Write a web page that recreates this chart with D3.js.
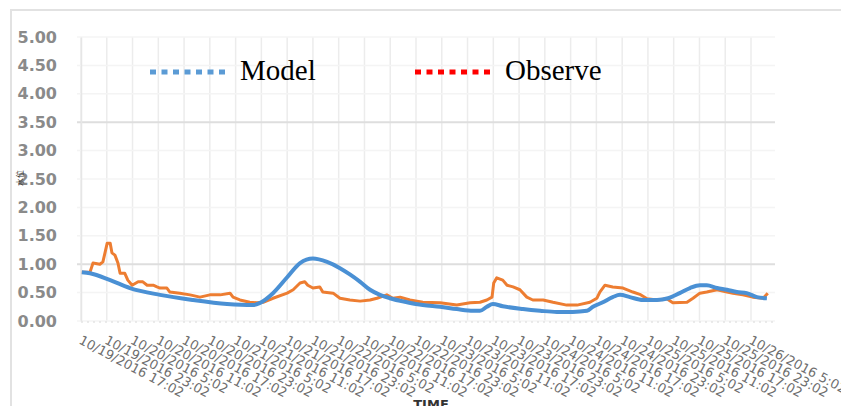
<!DOCTYPE html>
<html lang="en">
<head>
    <meta charset="UTF-8">
    <title>Model vs Observe</title>
    <script src="https://d3js.org/d3.v7.min.js"></script>
    <style>
        body { margin: 0; background: #fff; }
        .ylab { font-family: "DejaVu Sans", sans-serif; font-size: 16px; font-weight: bold; fill: #8a8a8a; }
        .xlab { font-family: "DejaVu Sans", sans-serif; font-size: 13px; fill: #6e6e6e; }
        .legend { font-family: "Liberation Serif", serif; font-size: 29px; fill: #000; }
    </style>
</head>
<body>
<script>
    const width  = 841;
    const height = 406;

    // x tick labels, one every 6 hours from 10/19/2016 17:02
    const tickLabels = [
        "10/19/2016 17:02", "10/19/2016 23:02",
        "10/20/2016 5:02", "10/20/2016 11:02", "10/20/2016 17:02", "10/20/2016 23:02",
        "10/21/2016 5:02", "10/21/2016 11:02", "10/21/2016 17:02", "10/21/2016 23:02",
        "10/22/2016 5:02", "10/22/2016 11:02", "10/22/2016 17:02", "10/22/2016 23:02",
        "10/23/2016 5:02", "10/23/2016 11:02", "10/23/2016 17:02", "10/23/2016 23:02",
        "10/24/2016 5:02", "10/24/2016 11:02", "10/24/2016 17:02", "10/24/2016 23:02",
        "10/25/2016 5:02", "10/25/2016 11:02", "10/25/2016 17:02", "10/25/2016 23:02",
        "10/26/2016 5:02"
    ];
    const yTicks = [0, 0.5, 1, 1.5, 2, 2.5, 3, 3.5, 4, 4.5, 5];

    // hours after 10/19/2016 17:02
    const modelHours = [0.2, 2.1, 6.8, 11.4, 18.4, 26.1, 34.0, 40.0, 41.7, 44.7, 48.0, 51.0, 54.0, 57.3,
        60.3, 62.6, 65.0, 67.3, 69.6, 71.9, 75.9, 79.6, 83.6, 87.5, 91.3, 92.9, 94.5, 95.9, 98.2,
        102.9, 106.9, 110.8, 114.5, 117.8, 119.2, 121.5, 123.8, 125.5, 127.8, 130.8, 134.1, 136.7,
        139.4, 141.8, 144.1, 145.7, 148.1, 150.4, 152.7, 155.0, 157.4, 159.7];
    const modelValues = [0.86, 0.84, 0.72, 0.58, 0.46, 0.37, 0.30, 0.28, 0.32, 0.49, 0.77, 1.02, 1.10, 1.04,
        0.93, 0.82, 0.69, 0.55, 0.46, 0.40, 0.33, 0.28, 0.25, 0.21, 0.18, 0.18, 0.25, 0.30, 0.26,
        0.21, 0.18, 0.16, 0.16, 0.18, 0.25, 0.33, 0.42, 0.46, 0.42, 0.37, 0.37, 0.40,
        0.49, 0.58, 0.63, 0.63, 0.58, 0.55, 0.51, 0.49, 0.42, 0.40];

    const obsHours = [0.2, 2.1, 2.8, 4.4, 5.1, 6.1, 6.8, 7.2, 7.9, 8.6, 9.1, 10.2, 10.9, 11.9, 13.3, 14.4,
        15.4, 16.8, 17.7, 18.4, 20.0, 20.7, 23.0, 25.4, 27.7, 30.0, 32.4, 34.7, 35.4, 37.0, 39.3, 41.0,
        42.4, 44.7, 48.0, 49.4, 51.0, 52.1, 52.8, 54.0, 55.6, 56.3, 58.7, 60.3, 62.6, 65.0, 67.3, 68.9,
        71.2, 72.6, 74.3, 76.6, 79.6, 83.6, 87.5, 90.6, 92.9, 94.5, 95.7, 96.1, 96.8, 98.2, 99.2, 100.6,
        102.2, 103.8, 105.2, 107.6, 109.9, 113.1, 115.5, 118.5, 120.1, 120.8, 122.0, 123.8, 126.2, 128.5,
        130.1, 131.8, 134.1, 136.4, 137.8, 141.1, 142.5, 144.1, 145.7, 148.1, 150.4, 151.8, 154.1, 156.4,
        158.8, 159.9];
    const obsValues = [0.86, 0.86, 1.02, 1.00, 1.04, 1.37, 1.37, 1.20, 1.16, 1.02, 0.84, 0.84, 0.72, 0.63, 0.69, 0.69,
        0.63, 0.63, 0.60, 0.58, 0.58, 0.51, 0.49, 0.46, 0.42, 0.46, 0.46, 0.49, 0.42, 0.37, 0.33, 0.32,
        0.33, 0.40, 0.49, 0.55, 0.67, 0.69, 0.63, 0.58, 0.60, 0.51, 0.49, 0.40, 0.37, 0.35, 0.37, 0.40,
        0.46, 0.40, 0.42, 0.37, 0.33, 0.32, 0.28, 0.32, 0.33, 0.37, 0.42, 0.67, 0.76, 0.72, 0.63, 0.60,
        0.55, 0.42, 0.37, 0.37, 0.33, 0.28, 0.28, 0.33, 0.40, 0.51, 0.63, 0.60, 0.58, 0.51,
        0.47, 0.39, 0.37, 0.39, 0.32, 0.33, 0.40, 0.49, 0.51, 0.55, 0.51, 0.49, 0.46, 0.42,
        0.40, 0.49];

    const x = d3.scaleLinear().domain([0, 156]).range([81, 751]);
    const y = d3.scaleLinear().domain([0, 5]).range([321, 37]);

    const svg = d3.select("body").append("svg").attr("width", width).attr("height", height);

    // frame
    svg.append("path").attr("d", "M11,406V10H841")
       .attr("fill", "none").attr("stroke", "#e2e2e2").attr("stroke-width", 2);

    // grid
    svg.append("g").selectAll("line")
       .data(tickLabels)
       .join("line")
       .attr("x1", (d, i) => x(i * 6)).attr("x2", (d, i) => x(i * 6))
       .attr("y1", y(5)).attr("y2", y(0))
       .attr("stroke", "#ececec").attr("stroke-width", 1.5);

    svg.append("g").selectAll("line")
       .data(yTicks)
       .join("line")
       .attr("x1", 77).attr("x2", 775)
       .attr("y1", d => y(d)).attr("y2", d => y(d))
       .attr("stroke", d => (d === 3.5 || d === 1) ? "#dedede" : "#f4f4f4")
       .attr("stroke-width", d => (d === 3.5 || d === 1) ? 2 : 1.5);

    svg.append("line")
       .attr("x1", 81).attr("x2", 775).attr("y1", y(0) + 1).attr("y2", y(0) + 1)
       .attr("stroke", "#d8d8d8").attr("stroke-dasharray", "2,4");

    // y axis
    const yAxis = svg.append("g")
       .attr("transform", "translate(81,0)")
       .call(d3.axisLeft(y).tickValues(yTicks).tickFormat(d3.format(".2f")).tickSize(0).tickPadding(24));
    yAxis.select(".domain").attr("stroke", "#e6e6e6").attr("stroke-width", 1.5);
    yAxis.selectAll("text").attr("class", "ylab").attr("fill", null);

    // x labels
    svg.append("g").selectAll("text")
       .data(tickLabels)
       .join("text").attr("class", "xlab")
       .attr("transform", (d, i) => `translate(${x(i * 6) - 3},343) rotate(28)`)
       .text(d => d);

    svg.append("text")
       .attr("x", 431).attr("y", 409)
       .attr("text-anchor", "middle")
       .style("font", "bold 13px 'DejaVu Sans', sans-serif")
       .attr("fill", "#333")
       .text("TIME");

    svg.append("text")
       .attr("transform", "translate(23,178) rotate(-90)")
       .attr("text-anchor", "middle")
       .style("font", "8px 'Noto Sans CJK SC', sans-serif")
       .attr("fill", "#333")
       .text("水位");

    // lines
    const line = d3.line().x(d => x(d[0])).y(d => y(d[1]));

    svg.append("path")
       .datum(obsHours.map((h, i) => [h, obsValues[i]]))
       .attr("d", line)
       .attr("fill", "none").attr("stroke", "#ed7d31").attr("stroke-width", 3)
       .attr("stroke-linejoin", "round");

    svg.append("path")
       .datum(modelHours.map((h, i) => [h, modelValues[i]]))
       .attr("d", line.curve(d3.curveMonotoneX))
       .attr("fill", "none").attr("stroke", "#4a90d4").attr("stroke-width", 4);

    // legend
    const legend = [
        {name: "Model",   color: "#5b9bd5", x: 150},
        {name: "Observe", color: "#ff0000", x: 415}
    ];
    const lg = svg.append("g").selectAll("g").data(legend).join("g");
    lg.append("line")
      .attr("x1", d => d.x).attr("x2", d => d.x + 78)
      .attr("y1", 72).attr("y2", 72)
      .attr("stroke", d => d.color).attr("stroke-width", 5)
      .attr("stroke-dasharray", "6,5.5");
    lg.append("text").attr("class", "legend")
      .attr("x", d => d.x + 90).attr("y", 80)
      .text(d => d.name);
</script>
</body>
</html>
